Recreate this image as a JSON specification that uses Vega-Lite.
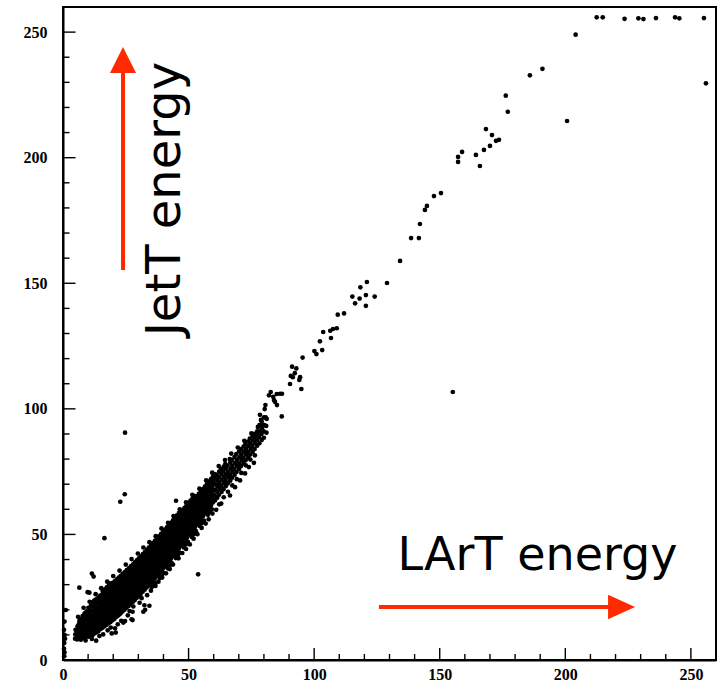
{
  "$schema": "https://vega.github.io/schema/vega-lite/v6.json",
  "width": 653,
  "height": 653,
  "autosize": {"type": "none"},
  "padding": {"left": 63, "top": 7, "right": 5, "bottom": 22},
  "background": "white",
  "config": {
    "view": {"stroke": "black", "strokeWidth": 2}
  },
  "resolve": {"axis": {"x": "independent", "y": "independent"}},
  "layer": [
    {
      "data": {
        "values": "x,y\n212.5,255.9\n214.9,255.9\n223.6,255.3\n229.1,255.5\n231.1,255.2\n236.1,255.6\n243.7,255.9\n245.4,255.5\n255.2,255.6\n256.0,229.6\n204.1,249.0\n190.9,235.4\n185.9,232.8\n176.3,224.7\n177.1,218.3\n200.7,214.6\n157.3,198.3\n157.3,200.3\n158.9,202.3\n164.4,201.1\n166.0,196.7\n167.6,203.1\n170.0,204.7\n168.4,211.4\n170.8,209.0\n172.4,206.7\n173.6,207.1\n150.5,185.9\n147.7,184.7\n144.9,180.8\n144.1,179.2\n142.1,173.6\n141.7,168.0\n138.6,168.0\n134.2,158.9\n129.0,150.1\n121.0,150.5\n118.4,148.4\n115.2,144.7\n118.1,143.9\n120.6,145.3\n124.1,144.7\n116.3,142.0\n120.6,141.0\n109.4,137.5\n111.9,138.0\n106.4,131.1\n107.5,131.8\n109.0,132.1\n103.6,130.6\n102.3,126.9\n106.7,128.2\n100.1,123.0\n100.9,121.8\n103.2,123.4\n95.4,120.4\n91.2,116.8\n92.9,116.1\n92.3,114.2\n90.7,113.1\n91.5,112.6\n94.4,112.6\n94.1,111.5\n90.4,109.9\n94.9,107.9\n82.7,106.7\n82.0,105.4\n83.7,104.8\n85.1,105.9\n86.4,106.0\n87.2,106.0\n84.0,103.5\n84.4,102.8\n85.2,101.5\n80.6,101.5\n80.3,99.9\n78.4,97.6\n80.7,96.6\n87.1,97.0\n78.8,95.6\n79.6,93.6\n155.2,106.7\n24.7,90.5\n24.6,66.0\n22.8,63.0\n16.5,48.5\n53.8,34.1\n6.5,28.8\n11.5,34.4\n12.2,33.2\n9.8,27.0\n10.5,26.8\n1.1,19.9\n39.4,36.6\n13.2,7.7\n20.7,12.6\n19.4,10.6\n21.0,10.9\n24.0,14.9\n24.7,15.5\n27.3,16.2\n27.7,15.9\n27.7,19.2\n32.0,19.2\n32.7,20.0\n32.4,21.8\n34.4,21.6\n29.7,26.6\n36.0,33.2\n35.4,35.2\n18.7,30.5\n42.6,45.5\n45.0,63.4\n0.5,1.5\n0.6,3.0\n0.4,4.5\n0.5,6.8\n0.8,8.5\n0.6,10.0\n0.4,12.0\n0.6,15.3\n9.0,7.8\n11.5,8.4\n14.5,9.6\n16.0,10.2\n17.8,11.8\n19.0,12.9\n21.8,14.2\n23.2,15.6\n25.8,17.8\n26.5,19.5\n28.0,21.3\n30.5,22.8\n31.3,24.6\n33.5,25.8\n35.0,27.6\n36.8,29.5\n38.0,31.2\n39.5,32.8\n41.0,34.5\n42.5,36.2\n43.8,38.0\n46.0,40.5\n47.5,42.6\n49.0,44.2\n50.5,46.0\n52.0,48.3\n53.5,50.1\n55.2,52.6\n56.8,54.3\n58.0,56.0\n59.5,58.3\n61.0,59.8\n63.0,62.3\n66.5,65.5\n68.5,68.8\n70.5,71.5\n72.5,74.3\n74.0,76.8\n76.0,78.5\n35.3,29.0\n36.9,30.8\n38.5,32.6\n40.1,34.6\n41.7,36.5\n43.3,38.6\n44.9,40.6\n46.5,42.7\n48.1,44.8\n49.7,47.0\n51.3,49.0\n52.9,51.3\n54.5,53.4\n56.1,55.5\n57.7,57.8\n59.3,60.0\n36.1,30.0\n39.3,33.6\n42.5,37.6\n45.7,41.7\n48.9,46.0\n52.1,50.2\n55.3,54.5\n58.5,59.0\n6.0,17.2\n8.2,20.8\n10.6,23.2\n13.0,26.2\n15.2,28.6\n17.6,31.2\n20.0,33.4\n22.5,35.6\n25.0,38.0\n27.3,40.2\n29.8,42.4\n32.0,44.8\n34.4,46.9\n36.9,49.3\n39.2,52.4\n41.8,54.6\n44.0,57.3\n46.5,60.0\n49.0,62.8\n51.5,65.8\n54.3,68.2\n57.0,71.5\n59.4,74.6\n62.0,77.2\n64.5,79.6\n67.0,82.2\n69.6,84.6\n72.2,87.3\n75.0,90.2\n77.6,92.8\n4.8,8.5\n4.9,10.2\n5.0,12.0\n5.6,8.2\n5.7,9.8\n5.5,11.5\n5.8,13.4\n6.3,8.8\n6.2,10.5\n6.4,12.3\n6.3,14.2\n6.5,15.5\n7.1,8.1\n7.0,9.6\n7.2,11.2\n7.1,12.9\n7.3,14.6\n7.0,16.3\n7.8,9.1\n7.9,10.7\n7.7,12.4\n7.8,14.0\n8.0,15.8\n7.8,17.5\n8.6,8.7\n8.5,10.3\n8.7,11.9\n8.6,13.5\n8.4,15.2\n8.7,16.9\n8.6,18.6\n9.4,9.4\n9.3,11.1\n9.5,12.7\n9.4,14.4\n9.6,16.1\n9.3,17.7\n9.4,19.4\n10.2,9.3\n10.1,10.8\n10.3,12.5\n10.2,14.1\n10.0,15.8\n10.3,17.4\n10.2,19.1\n10.1,20.8\n11.0,10.0\n11.1,11.6\n10.9,13.3\n11.0,14.9\n11.2,16.6\n11.0,18.2\n10.9,19.9\n11.1,21.6\n11.7,9.8\n11.8,11.4\n11.6,13.0\n11.7,14.7\n11.9,16.3\n11.7,18.0\n11.6,19.6\n11.8,21.3\n11.7,23.0\n12.5,10.6\n12.4,12.2\n12.6,13.9\n12.5,15.5\n12.3,17.1\n12.5,18.8\n12.7,20.4\n12.5,22.1\n12.4,23.7\n13.3,11.0\n13.2,12.7\n13.4,14.3\n13.3,16.0\n13.1,17.6\n13.3,19.3\n13.5,20.9\n13.3,22.6\n13.2,24.2\n14.1,11.5\n14.0,13.1\n14.2,14.8\n14.1,16.4\n13.9,18.1\n14.1,19.7\n14.3,21.4\n14.1,23.0\n14.0,24.7\n14.9,12.3\n14.8,14.0\n15.0,15.6\n14.9,17.3\n14.7,18.9\n14.9,20.6\n15.1,22.2\n14.9,23.9\n14.8,25.6\n15.7,12.8\n15.6,14.4\n15.8,16.1\n15.7,17.7\n15.5,19.4\n15.7,21.0\n15.9,22.7\n15.7,24.3\n15.6,26.0\n15.8,27.5\n16.5,13.4\n16.4,15.0\n16.6,16.7\n16.5,18.3\n16.3,20.0\n16.5,21.6\n16.7,23.3\n16.5,24.9\n16.4,26.6\n16.6,28.1\n17.3,14.0\n17.2,15.7\n17.4,17.3\n17.3,19.0\n17.1,20.6\n17.3,22.3\n17.5,23.9\n17.3,25.6\n17.2,27.2\n17.4,28.9\n18.1,14.6\n18.0,16.2\n18.2,17.9\n18.1,19.5\n17.9,21.2\n18.1,22.8\n18.3,24.5\n18.1,26.1\n18.0,27.8\n18.2,29.5\n18.9,15.1\n18.8,16.8\n19.0,18.4\n18.9,20.1\n18.7,21.7\n18.9,23.4\n19.1,25.0\n18.9,26.7\n18.8,28.3\n19.0,30.1\n19.7,15.8\n19.6,17.4\n19.8,19.1\n19.7,20.7\n19.5,22.4\n19.7,24.0\n19.9,25.7\n19.7,27.3\n19.6,29.0\n19.8,30.7\n20.5,16.4\n20.4,18.0\n20.6,19.7\n20.5,21.3\n20.3,23.0\n20.5,24.6\n20.7,26.3\n20.5,27.9\n20.4,29.6\n20.6,31.3\n21.3,17.2\n21.2,18.8\n21.4,20.5\n21.3,22.1\n21.1,23.8\n21.3,25.4\n21.5,27.1\n21.3,28.7\n21.2,30.4\n21.4,32.1\n22.1,17.8\n22.0,19.5\n22.2,21.1\n22.1,22.8\n21.9,24.4\n22.1,26.1\n22.3,27.7\n22.1,29.4\n22.0,31.0\n22.2,32.8\n22.9,18.5\n22.8,20.1\n23.0,21.8\n22.9,23.4\n22.7,25.1\n22.9,26.7\n23.1,28.4\n22.9,30.0\n22.8,31.7\n23.0,33.5\n23.7,19.3\n23.6,21.0\n23.8,22.6\n23.7,24.3\n23.5,25.9\n23.7,27.6\n23.9,29.2\n23.7,30.9\n23.6,32.5\n23.8,34.3\n24.5,20.0\n24.4,21.7\n24.6,23.3\n24.5,25.0\n24.3,26.6\n24.5,28.3\n24.7,29.9\n24.5,31.6\n24.4,33.2\n24.6,35.0\n25.3,20.8\n25.2,22.4\n25.4,24.1\n25.3,25.7\n25.1,27.4\n25.3,29.0\n25.5,30.7\n25.3,32.3\n25.2,34.0\n25.4,35.8\n26.1,21.5\n26.0,23.2\n26.2,24.8\n26.1,26.5\n25.9,28.1\n26.1,29.8\n26.3,31.4\n26.1,33.1\n26.0,34.7\n26.2,36.5\n26.9,22.3\n26.8,23.9\n27.0,25.6\n26.9,27.2\n26.7,28.9\n26.9,30.5\n27.1,32.2\n26.9,33.8\n26.8,35.5\n27.0,37.3\n27.7,23.0\n27.6,24.7\n27.8,26.3\n27.7,28.0\n27.5,29.6\n27.7,31.3\n27.9,32.9\n27.7,34.6\n27.6,36.2\n27.8,38.0\n28.5,23.8\n28.4,25.5\n28.6,27.1\n28.5,28.8\n28.3,30.4\n28.5,32.1\n28.7,33.7\n28.5,35.4\n28.4,37.0\n28.6,38.9\n29.3,24.7\n29.2,26.3\n29.4,28.0\n29.3,29.6\n29.1,31.3\n29.3,32.9\n29.5,34.6\n29.3,36.2\n29.2,37.9\n29.4,39.7\n30.1,25.5\n30.0,27.1\n30.2,28.8\n30.1,30.4\n29.9,32.1\n30.1,33.7\n30.3,35.4\n30.1,37.0\n30.0,38.7\n30.2,40.5\n30.9,26.3\n30.8,28.0\n31.0,29.6\n30.9,31.3\n30.7,32.9\n30.9,34.6\n31.1,36.2\n30.9,37.9\n30.8,39.5\n31.0,41.3\n31.7,27.2\n31.6,28.8\n31.8,30.5\n31.7,32.1\n31.5,33.8\n31.7,35.4\n31.9,37.1\n31.7,38.7\n31.6,40.4\n31.8,42.2\n32.5,28.0\n32.4,29.7\n32.6,31.3\n32.5,33.0\n32.3,34.6\n32.5,36.3\n32.7,37.9\n32.5,39.6\n32.4,41.2\n32.6,43.0\n33.3,28.9\n33.2,30.5\n33.4,32.2\n33.3,33.8\n33.1,35.5\n33.3,37.1\n33.5,38.8\n33.3,40.4\n33.2,42.1\n33.4,43.9\n34.1,29.8\n34.0,31.4\n34.2,33.1\n34.1,34.7\n33.9,36.4\n34.1,38.0\n34.3,39.7\n34.1,41.3\n34.0,43.0\n34.2,44.8\n34.9,30.6\n34.8,32.3\n35.0,33.9\n34.9,35.6\n34.7,37.2\n34.9,38.9\n35.1,40.5\n34.9,42.2\n34.8,43.8\n35.0,45.6\n35.7,31.5\n35.6,33.2\n35.8,34.8\n35.7,36.5\n35.5,38.1\n35.7,39.8\n35.9,41.4\n35.7,43.1\n35.6,44.7\n35.8,46.5\n36.5,32.5\n36.4,34.1\n36.6,35.8\n36.5,37.4\n36.3,39.1\n36.5,40.7\n36.7,42.4\n36.5,44.0\n36.4,45.7\n36.6,47.4\n37.3,33.4\n37.2,35.0\n37.4,36.7\n37.3,38.3\n37.1,40.0\n37.3,41.6\n37.5,43.3\n37.3,44.9\n37.2,46.6\n37.4,48.3\n38.1,34.3\n38.0,36.0\n38.2,37.6\n38.1,39.3\n37.9,40.9\n38.1,42.6\n38.3,44.2\n38.1,45.9\n38.0,47.5\n38.2,49.2\n38.9,35.3\n38.8,36.9\n39.0,38.6\n38.9,40.2\n38.7,41.9\n38.9,43.5\n39.1,45.2\n38.9,46.8\n38.8,48.5\n39.0,50.1\n39.7,36.2\n39.6,37.9\n39.8,39.5\n39.7,41.2\n39.5,42.8\n39.7,44.5\n39.9,46.1\n39.7,47.8\n39.6,49.4\n39.8,51.0\n40.5,37.2\n40.4,38.8\n40.6,40.5\n40.5,42.1\n40.3,43.8\n40.5,45.4\n40.7,47.1\n40.5,48.7\n40.4,50.4\n40.6,51.9\n41.3,38.2\n41.2,39.8\n41.4,41.5\n41.3,43.1\n41.1,44.8\n41.3,46.4\n41.5,48.1\n41.3,49.7\n41.2,51.4\n41.4,52.8\n42.1,39.2\n42.0,40.8\n42.2,42.5\n42.1,44.1\n41.9,45.8\n42.1,47.4\n42.3,49.1\n42.1,50.7\n42.0,52.3\n42.2,53.7\n42.9,40.2\n42.8,41.8\n43.0,43.5\n42.9,45.1\n42.7,46.8\n42.9,48.4\n43.1,50.1\n42.9,51.7\n42.8,53.3\n43.0,54.6\n43.7,41.2\n43.6,42.9\n43.8,44.5\n43.7,46.2\n43.5,47.8\n43.7,49.5\n43.9,51.1\n43.7,52.8\n43.6,54.4\n43.8,55.6\n44.5,42.2\n44.4,43.9\n44.6,45.5\n44.5,47.2\n44.3,48.8\n44.5,50.5\n44.7,52.1\n44.5,53.8\n44.4,55.4\n44.6,56.6\n45.3,43.3\n45.2,44.9\n45.4,46.6\n45.3,48.2\n45.1,49.9\n45.3,51.5\n45.5,53.2\n45.3,54.8\n45.2,56.5\n45.4,57.6\n46.1,44.3\n46.0,46.0\n46.2,47.6\n46.1,49.3\n45.9,50.9\n46.1,52.6\n46.3,54.2\n46.1,55.9\n46.0,57.5\n46.2,58.6\n46.9,45.4\n46.8,47.0\n47.0,48.7\n46.9,50.3\n46.7,52.0\n46.9,53.6\n47.1,55.3\n46.9,56.9\n46.8,58.6\n47.7,46.4\n47.6,48.1\n47.8,49.7\n47.7,51.4\n47.5,53.0\n47.7,54.7\n47.9,56.3\n47.7,58.0\n47.6,59.6\n48.5,47.5\n48.4,49.1\n48.6,50.8\n48.5,52.4\n48.3,54.1\n48.5,55.7\n48.7,57.4\n48.5,59.0\n48.4,60.6\n49.3,48.6\n49.2,50.2\n49.4,51.9\n49.3,53.5\n49.1,55.2\n49.3,56.8\n49.5,58.5\n49.3,60.1\n49.2,61.6\n50.1,49.6\n50.0,51.3\n50.2,52.9\n50.1,54.6\n49.9,56.2\n50.1,57.9\n50.3,59.5\n50.1,61.2\n50.0,62.6\n50.9,50.7\n50.8,52.4\n51.0,54.0\n50.9,55.7\n50.7,57.3\n50.9,59.0\n51.1,60.6\n50.9,62.2\n50.8,63.5\n51.7,51.8\n51.6,53.4\n51.8,55.1\n51.7,56.7\n51.5,58.4\n51.7,60.0\n51.9,61.7\n51.7,63.2\n51.6,64.4\n52.5,52.9\n52.4,54.5\n52.6,56.2\n52.5,57.8\n52.3,59.5\n52.5,61.1\n52.7,62.8\n52.5,64.3\n52.4,65.3\n53.3,53.9\n53.2,55.6\n53.4,57.2\n53.3,58.9\n53.1,60.5\n53.3,62.2\n53.5,63.8\n53.3,65.2\n54.1,55.0\n54.0,56.7\n54.2,58.3\n54.1,60.0\n53.9,61.6\n54.1,63.3\n54.3,64.9\n54.1,66.2\n54.9,56.1\n54.8,57.8\n55.0,59.4\n54.9,61.1\n54.7,62.7\n54.9,64.4\n55.1,66.0\n54.9,67.1\n55.7,57.2\n55.6,58.9\n55.8,60.5\n55.7,62.2\n55.5,63.8\n55.7,65.5\n55.9,67.0\n55.7,68.0\n56.5,58.3\n56.4,60.0\n56.6,61.6\n56.5,63.3\n56.3,64.9\n56.5,66.6\n56.7,68.0\n56.5,69.0\n57.3,59.4\n57.2,61.0\n57.4,62.7\n57.3,64.3\n57.1,66.0\n57.3,67.6\n57.5,69.0\n57.3,70.0\n58.1,60.5\n58.0,62.1\n58.2,63.8\n58.1,65.4\n57.9,67.1\n58.1,68.7\n58.3,70.1\n58.1,71.0\n58.9,61.6\n58.8,63.2\n59.0,64.9\n58.9,66.5\n58.7,68.2\n58.9,69.8\n59.1,71.2\n58.9,72.0\n59.7,62.7\n59.6,64.3\n59.8,66.0\n59.7,67.6\n59.5,69.3\n59.7,70.9\n59.9,72.3\n59.7,73.0\n60.5,63.5\n60.4,65.5\n60.6,67.8\n60.5,70.0\n60.3,72.5\n60.5,74.0\n61.4,64.6\n61.3,67.0\n61.5,69.2\n61.4,71.5\n61.2,73.6\n62.2,62.0\n62.1,65.8\n62.3,68.1\n62.2,70.4\n62.0,72.7\n62.2,75.0\n63.1,66.9\n63.0,69.3\n63.2,71.6\n63.1,73.9\n62.9,76.0\n64.0,64.8\n63.9,68.0\n64.1,70.4\n64.0,72.8\n63.8,75.1\n64.0,77.0\n64.8,69.2\n64.7,71.5\n64.9,73.9\n64.8,76.2\n64.6,78.0\n65.7,67.0\n65.6,70.3\n65.8,72.7\n65.7,75.0\n65.5,77.4\n66.6,71.4\n66.5,73.8\n66.7,76.2\n66.6,78.6\n66.4,80.0\n67.4,69.5\n67.3,72.6\n67.5,75.0\n67.4,77.3\n67.2,79.7\n68.3,73.7\n68.2,76.1\n68.4,78.4\n68.3,80.8\n69.2,72.0\n69.1,74.9\n69.3,77.2\n69.2,79.6\n69.0,82.0\n70.1,76.0\n70.0,78.3\n70.2,80.7\n70.1,83.0\n71.0,74.5\n70.9,77.2\n71.1,79.5\n71.0,81.9\n70.8,84.0\n71.9,78.3\n71.8,80.6\n72.0,83.0\n71.9,85.0\n72.8,77.5\n72.7,79.5\n72.9,81.8\n72.8,84.1\n72.6,86.0\n73.7,80.5\n73.6,82.9\n73.8,85.2\n73.7,87.0\n74.6,79.8\n74.5,81.8\n74.7,84.0\n74.6,86.3\n74.4,88.2\n75.5,82.9\n75.4,85.2\n75.6,87.4\n75.5,89.0\n76.4,81.5\n76.3,84.0\n76.5,86.3\n76.4,88.5\n76.2,90.0\n77.3,85.3\n77.2,87.5\n77.4,89.7\n77.3,91.0\n78.2,86.3\n78.1,88.7\n78.3,91.0\n78.2,93.5\n79.1,87.6\n79.0,90.0\n79.2,92.3\n79.1,95.0\n80.0,88.5\n79.9,91.0\n80.1,93.5\n80.0,96.6\n81.0,90.5\n80.9,93.2\n81.1,96.0",
        "format": {"type": "csv", "parse": {"x": "number", "y": "number"}}
      },
      "mark": {"type": "point", "filled": true, "shape": "circle", "size": 22, "color": "black", "opacity": 1},
      "encoding": {
        "x": {
          "field": "x", "type": "quantitative", "title": null,
          "scale": {"domain": [0, 260], "nice": false, "zero": false},
          "axis": {
            "orient": "bottom",
            "values": [0, 50, 100, 150, 200, 250],
            "grid": false, "ticks": false,
            "domainColor": "black", "domainWidth": 2,
            "labelFont": "Liberation Serif", "labelFontWeight": "bold", "labelFontSize": 16,
            "labelColor": "black", "labelPadding": 6, "labelBaseline": "top",
            "labelFlush": false, "labelOverlap": false
          }
        },
        "y": {
          "field": "y", "type": "quantitative", "title": null,
          "scale": {"domain": [0, 260], "nice": false, "zero": false},
          "axis": {
            "orient": "left",
            "values": [0, 50, 100, 150, 200, 250],
            "grid": false, "ticks": false,
            "domainColor": "black", "domainWidth": 2,
            "labelFont": "Liberation Serif", "labelFontWeight": "bold", "labelFontSize": 16,
            "labelColor": "black", "labelPadding": 16, "labelAlign": "right", "labelBaseline": "middle",
            "labelFlush": false, "labelOverlap": false
          }
        }
      }
    },
    {
      "data": {"values": [{"x": 50, "y": 2.4}, {"x": 100, "y": 2.4}, {"x": 150, "y": 2.4}, {"x": 200, "y": 2.4}, {"x": 250, "y": 2.4}]},
      "mark": {"type": "point", "filled": false, "opacity": 1, "color": "black", "strokeWidth": 1.4, "size": 144, "shape": "M0,-1L0,1"},
      "encoding": {
        "x": {"field": "x", "type": "quantitative", "title": null, "axis": null, "scale": {"domain": [0, 260], "nice": false, "zero": false}},
        "y": {"field": "y", "type": "quantitative", "title": null, "axis": null, "scale": {"domain": [0, 260], "nice": false, "zero": false}}
      }
    },
    {
      "data": {"values": [{"x": 10, "y": 1.2}, {"x": 20, "y": 1.2}, {"x": 30, "y": 1.2}, {"x": 40, "y": 1.2}, {"x": 60, "y": 1.2}, {"x": 70, "y": 1.2}, {"x": 80, "y": 1.2}, {"x": 90, "y": 1.2}, {"x": 110, "y": 1.2}, {"x": 120, "y": 1.2}, {"x": 130, "y": 1.2}, {"x": 140, "y": 1.2}, {"x": 160, "y": 1.2}, {"x": 170, "y": 1.2}, {"x": 180, "y": 1.2}, {"x": 190, "y": 1.2}, {"x": 210, "y": 1.2}, {"x": 220, "y": 1.2}, {"x": 230, "y": 1.2}, {"x": 240, "y": 1.2}]},
      "mark": {"type": "point", "filled": false, "opacity": 1, "color": "black", "strokeWidth": 1.4, "size": 36, "shape": "M0,-1L0,1"},
      "encoding": {
        "x": {"field": "x", "type": "quantitative", "title": null, "axis": null, "scale": {"domain": [0, 260], "nice": false, "zero": false}},
        "y": {"field": "y", "type": "quantitative", "title": null, "axis": null, "scale": {"domain": [0, 260], "nice": false, "zero": false}}
      }
    },
    {
      "data": {"values": [{"x": 2.5, "y": 50}, {"x": 2.5, "y": 100}, {"x": 2.5, "y": 150}, {"x": 2.5, "y": 200}, {"x": 2.5, "y": 250}]},
      "mark": {"type": "point", "filled": false, "opacity": 1, "color": "black", "strokeWidth": 1.4, "size": 156, "shape": "M-1,0L1,0"},
      "encoding": {
        "x": {"field": "x", "type": "quantitative", "title": null, "axis": null, "scale": {"domain": [0, 260], "nice": false, "zero": false}},
        "y": {"field": "y", "type": "quantitative", "title": null, "axis": null, "scale": {"domain": [0, 260], "nice": false, "zero": false}}
      }
    },
    {
      "data": {"values": [{"x": 1.3, "y": 10}, {"x": 1.3, "y": 20}, {"x": 1.3, "y": 30}, {"x": 1.3, "y": 40}, {"x": 1.3, "y": 60}, {"x": 1.3, "y": 70}, {"x": 1.3, "y": 80}, {"x": 1.3, "y": 90}, {"x": 1.3, "y": 110}, {"x": 1.3, "y": 120}, {"x": 1.3, "y": 130}, {"x": 1.3, "y": 140}, {"x": 1.3, "y": 160}, {"x": 1.3, "y": 170}, {"x": 1.3, "y": 180}, {"x": 1.3, "y": 190}, {"x": 1.3, "y": 210}, {"x": 1.3, "y": 220}, {"x": 1.3, "y": 230}, {"x": 1.3, "y": 240}]},
      "mark": {"type": "point", "filled": false, "opacity": 1, "color": "black", "strokeWidth": 1.4, "size": 42, "shape": "M-1,0L1,0"},
      "encoding": {
        "x": {"field": "x", "type": "quantitative", "title": null, "axis": null, "scale": {"domain": [0, 260], "nice": false, "zero": false}},
        "y": {"field": "y", "type": "quantitative", "title": null, "axis": null, "scale": {"domain": [0, 260], "nice": false, "zero": false}}
      }
    },
    {
      "data": {"values": [
        {"x1": 125.8, "x2": 218.0, "y1": 21.1, "y2": 21.1},
        {"x1": 23.9, "x2": 23.9, "y1": 155.3, "y2": 235.0}
      ]},
      "mark": {"type": "rule", "color": "#ff2a00", "strokeWidth": 4},
      "encoding": {
        "x": {"field": "x1", "type": "quantitative", "title": null, "axis": null, "scale": {"domain": [0, 260], "nice": false, "zero": false}},
        "x2": {"field": "x2"},
        "y": {"field": "y1", "type": "quantitative", "title": null, "axis": null, "scale": {"domain": [0, 260], "nice": false, "zero": false}},
        "y2": {"field": "y2"}
      }
    },
    {
      "data": {"values": [{"x": 222.4, "y": 21.1}]},
      "mark": {"type": "point", "filled": true, "opacity": 1, "color": "#ff2a00", "size": 729, "shape": "M-1,-0.9L1,0L-1,0.9Z"},
      "encoding": {
        "x": {"field": "x", "type": "quantitative", "title": null, "axis": null, "scale": {"domain": [0, 260], "nice": false, "zero": false}},
        "y": {"field": "y", "type": "quantitative", "title": null, "axis": null, "scale": {"domain": [0, 260], "nice": false, "zero": false}}
      }
    },
    {
      "data": {"values": [{"x": 23.9, "y": 238.9}]},
      "mark": {"type": "point", "filled": true, "opacity": 1, "color": "#ff2a00", "size": 676, "shape": "M0,-1L1,1L-1,1Z"},
      "encoding": {
        "x": {"field": "x", "type": "quantitative", "title": null, "axis": null, "scale": {"domain": [0, 260], "nice": false, "zero": false}},
        "y": {"field": "y", "type": "quantitative", "title": null, "axis": null, "scale": {"domain": [0, 260], "nice": false, "zero": false}}
      }
    },
    {
      "data": {"values": [{"x": 188.9, "y": 35.8, "label": "LArT energy"}]},
      "mark": {"type": "text", "font": "DejaVu Sans", "fontSize": 46, "color": "black", "align": "center", "baseline": "alphabetic"},
      "encoding": {
        "x": {"field": "x", "type": "quantitative", "title": null, "axis": null, "scale": {"domain": [0, 260], "nice": false, "zero": false}},
        "y": {"field": "y", "type": "quantitative", "title": null, "axis": null, "scale": {"domain": [0, 260], "nice": false, "zero": false}},
        "text": {"field": "label"}
      }
    },
    {
      "data": {"values": [{"x": 46.6, "y": 183.5, "label": "JetT energy"}]},
      "mark": {"type": "text", "font": "DejaVu Sans", "fontSize": 48, "color": "black", "align": "center", "baseline": "alphabetic", "angle": 270},
      "encoding": {
        "x": {"field": "x", "type": "quantitative", "title": null, "axis": null, "scale": {"domain": [0, 260], "nice": false, "zero": false}},
        "y": {"field": "y", "type": "quantitative", "title": null, "axis": null, "scale": {"domain": [0, 260], "nice": false, "zero": false}},
        "text": {"field": "label"}
      }
    }
  ]
}
